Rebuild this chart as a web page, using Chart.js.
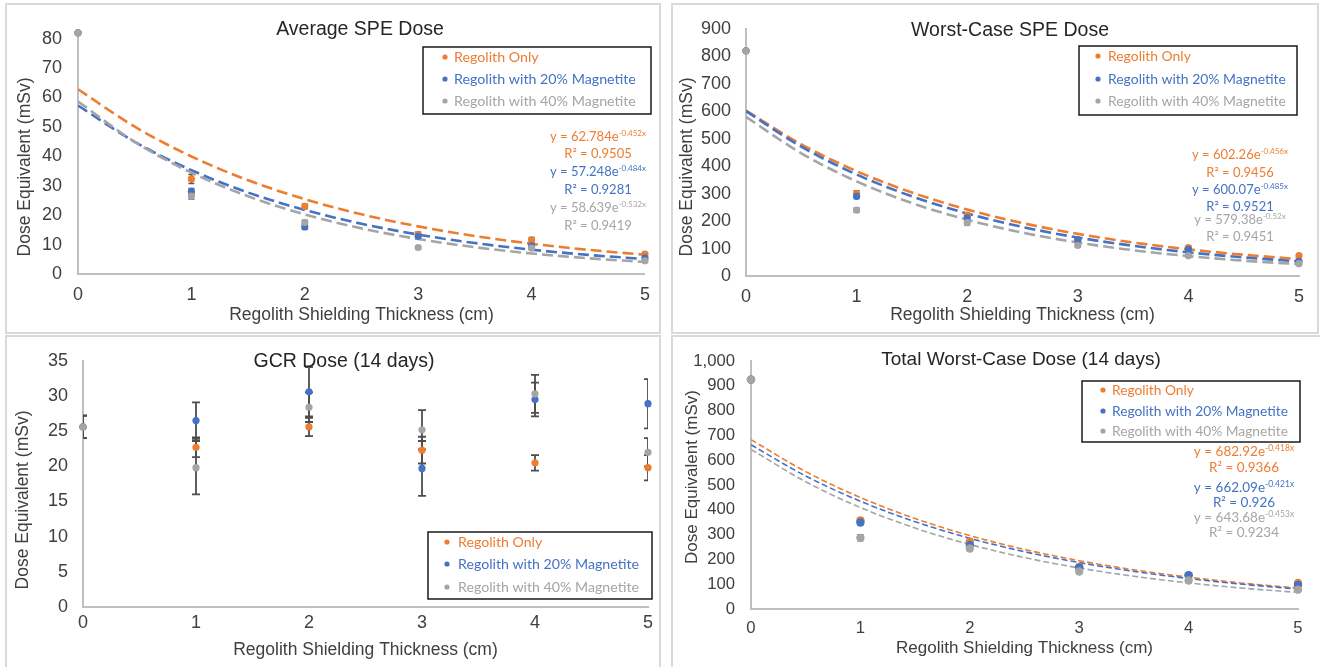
<!DOCTYPE html>
<html><head><meta charset="utf-8">
<script src="https://cdn.jsdelivr.net/npm/chart.js@4.4.0/dist/chart.umd.min.js"></script>
<style>
html,body{margin:0;padding:0;background:#fff;width:1320px;height:667px;overflow:hidden;position:relative;}
.panel{position:absolute;box-sizing:border-box;border:2px solid #d9d9d9;}
canvas{position:absolute;}
</style></head><body>
<div class="panel" style="left:5px;top:3px;width:656px;height:331px"></div>
<div class="panel" style="left:671px;top:3px;width:648px;height:331px"></div>
<div class="panel" style="left:5px;top:335px;width:656px;height:340px"></div>
<div class="panel" style="left:671px;top:335px;width:655px;height:340px"></div>
<canvas id="c1" width="655" height="331" style="left:5px;top:3px"></canvas>
<canvas id="c2" width="647" height="331" style="left:671px;top:3px"></canvas>
<canvas id="c3" width="655" height="332" style="left:5px;top:335px"></canvas>
<canvas id="c4" width="649" height="332" style="left:671px;top:335px"></canvas>
<script>
// ---------- DATA ----------
const thickness = [0, 1, 2, 3, 4, 5];
const trendThickness = [0, 0.5, 1, 1.5, 2, 2.5, 3, 3.5, 4, 4.5, 5];
const seriesLabels = ['Regolith Only', 'Regolith with 20% Magnetite', 'Regolith with 40% Magnetite'];
const xAxisLabel = 'Regolith Shielding Thickness (cm)';
const yAxisLabel = 'Dose Equivalent (mSv)';

// Average SPE Dose
const avgSpeTitle = 'Average SPE Dose';
const avgSpeRegolith = [82, 32.3, 23.0, 13.5, 11.6, 6.8];
const avgSpeMag20 = [82, 28.1, 16.0, 12.8, 9.6, 5.5];
const avgSpeMag40 = [82, 26.5, 17.5, 9.0, 8.8, 4.5];
const avgSpeErrRegolith = [0, 1.5, 0.8, 0.8, 0.8, 0.6];
const avgSpeErrMag20 = [0, 1.0, 0.8, 0.8, 0.6, 0.5];
const avgSpeErrMag40 = [0, 1.0, 0.8, 0.6, 0.6, 0.5];
const avgSpeTrendRegolith = [62.78, 50.08, 39.95, 31.87, 25.42, 20.28, 16.18, 12.91, 10.30, 8.21, 6.55];
const avgSpeTrendMag20 = [57.25, 44.94, 35.28, 27.70, 21.75, 17.07, 13.40, 10.52, 8.26, 6.49, 5.09];
const avgSpeTrendMag40 = [58.64, 44.94, 34.45, 26.40, 20.24, 15.51, 11.89, 9.11, 6.98, 5.35, 4.10];
const avgSpeEquations = [['y = 62.784e', '-0.452x', 'R² = 0.9505'], ['y = 57.248e', '-0.484x', 'R² = 0.9281'], ['y = 58.639e', '-0.532x', 'R² = 0.9419']];
const avgSpeYMax = 83;
const avgSpeYStep = 10;

// Worst-Case SPE Dose
const worstSpeTitle = 'Worst-Case SPE Dose';
const worstSpeRegolith = [820, 300, 222, 130, 103, 74];
const worstSpeMag20 = [820, 290, 212, 132, 97, 53];
const worstSpeMag40 = [820, 240, 194, 111, 74, 45];
const worstSpeErrRegolith = [0, 10, 8, 6, 6, 5];
const worstSpeErrMag20 = [0, 8, 8, 6, 6, 5];
const worstSpeErrMag40 = [0, 8, 8, 6, 6, 5];
const worstSpeTrendRegolith = [602.26, 479.48, 381.73, 303.91, 241.95, 192.63, 153.36, 122.10, 97.21, 77.39, 61.61];
const worstSpeTrendMag20 = [600.07, 470.86, 369.48, 289.92, 227.50, 178.51, 140.08, 109.92, 86.25, 67.68, 53.11];
const worstSpeTrendMag40 = [579.38, 446.73, 344.45, 265.59, 204.78, 157.90, 121.75, 93.87, 72.38, 55.81, 43.03];
const worstSpeEquations = [['y = 602.26e', '-0.456x', 'R² = 0.9456'], ['y = 600.07e', '-0.485x', 'R² = 0.9521'], ['y = 579.38e', '-0.52x', 'R² = 0.9451']];
const worstSpeYMax = 900;
const worstSpeYStep = 100;

// GCR Dose (14 days)
const gcrTitle = 'GCR Dose (14 days)';
const gcrRegolith = [25.6, 22.7, 25.6, 22.3, 20.5, 19.8];
const gcrMag20 = [25.6, 26.5, 30.6, 19.7, 29.5, 28.9];
const gcrMag40 = [25.6, 19.8, 28.4, 25.2, 30.3, 22.0];
const gcrErrRegolith = [1.6, 1.4, 1.3, 1.9, 1.1, 1.8];
const gcrErrMag20 = [1.6, 2.6, 3.5, 3.9, 2.4, 3.5];
const gcrErrMag40 = [1.6, 3.8, 2.1, 2.8, 2.7, 2.0];
const gcrYMax = 35;
const gcrYStep = 5;

// Total Worst-Case Dose (14 days)
const totalTitle = 'Total Worst-Case Dose (14 days)';
const totalRegolith = [925, 357, 271, 170, 136, 105];
const totalMag20 = [925, 349, 258, 167, 136, 97];
const totalMag40 = [925, 287, 244, 151, 115, 78];
const totalErrRegolith = [0, 10, 10, 8, 8, 6];
const totalErrMag20 = [0, 10, 10, 8, 8, 6];
const totalErrMag40 = [0, 12, 10, 8, 8, 6];
const totalTrendRegolith = [682.92, 554.11, 449.59, 364.79, 295.98, 240.15, 194.85, 158.10, 128.28, 104.08, 84.45];
const totalTrendMag20 = [662.09, 536.40, 434.57, 352.07, 285.24, 231.09, 187.22, 151.68, 122.88, 99.55, 80.65];
const totalTrendMag40 = [643.68, 513.23, 409.21, 326.28, 260.15, 207.42, 165.38, 131.86, 105.14, 83.83, 66.84];
const totalEquations = [['y = 682.92e', '-0.418x', 'R² = 0.9366'], ['y = 662.09e', '-0.421x', 'R² = 0.926'], ['y = 643.68e', '-0.453x', 'R² = 0.9234']];
const totalYMax = 1000;
const totalYStep = 100;

// ---------- STYLE ----------
const colors = ['#ED7D31', '#4472C4', '#A5A5A5'];
const FONT = '"Liberation Sans", Arial, sans-serif';
const LEG_FONT = 'Lato, "Open Sans", sans-serif';

function pts(xs, ys) { return xs.map((x, i) => ({x: x, y: ys[i]})); }

function pointSets(series, errs, radius) {
  return series.map((ys, k) => ({
    type: 'scatter', label: seriesLabels[k], data: pts(thickness, ys), err: errs[k],
    backgroundColor: colors[k], borderColor: colors[k], pointRadius: radius, pointHoverRadius: radius,
    borderWidth: 0, showLine: false, order: 2 - k, clip: false, legendEntry: true
  }));
}
function trendSets(series, width, dash) {
  return series.map((ys, k) => ({
    type: 'line', label: seriesLabels[k] + ' trend', data: pts(trendThickness, ys),
    borderColor: colors[k], backgroundColor: colors[k], borderWidth: width, borderDash: dash,
    pointRadius: 0, fill: false, cubicInterpolationMode: 'monotone', order: 5 - k
  }));
}

function drawErrorBars(chart, o) {
  const {ctx, chartArea: a, scales} = chart;
  const xs = scales.x, ys = scales.y;
  ctx.save();
  ctx.beginPath(); ctx.rect(a.left, a.top, a.right - a.left, a.bottom - a.top); ctx.clip();
  ctx.strokeStyle = o.errColor; ctx.lineWidth = o.errWidth;
  chart.data.datasets.forEach(ds => {
    if (!ds.err) return;
    ds.data.forEach((p, j) => {
      const e = ds.err[j]; if (!e) return;
      const px = xs.getPixelForValue(p.x);
      const t = ys.getPixelForValue(p.y + e), b = ys.getPixelForValue(p.y - e);
      const c = o.errCap;
      ctx.beginPath();
      ctx.moveTo(px, t); ctx.lineTo(px, b);
      ctx.moveTo(px - c, t); ctx.lineTo(px + c, t);
      ctx.moveTo(px - c, b); ctx.lineTo(px + c, b);
      ctx.stroke();
    });
  });
  ctx.restore();
}

function overlay(o) {
  return {
    id: 'overlay',
    beforeDatasetsDraw(chart) { drawErrorBars(chart, o); },
    afterDraw(chart) {
      const ctx = chart.ctx;
      ctx.save();
      ctx.textAlign = 'center'; ctx.textBaseline = 'middle';
      ctx.font = o.titleSize + 'px ' + FONT; ctx.fillStyle = '#262626';
      ctx.fillText(o.title, o.titleX, o.titleY);
      ctx.save(); ctx.translate(o.yTitleX, o.yTitleY); ctx.rotate(-Math.PI / 2);
      ctx.font = o.axisTitleSize + 'px ' + FONT; ctx.fillStyle = '#404040';
      ctx.fillText(yAxisLabel, 0, 0); ctx.restore();
      const L = o.legend;
      const items = chart.data.datasets.filter(d => d.legendEntry);
      ctx.font = '14px ' + LEG_FONT;
      const longest = Math.max(...items.map(d => ctx.measureText(d.label).width));
      const fs = 14 * L.textWidth / longest;
      ctx.strokeStyle = '#1a1a1a'; ctx.lineWidth = 1.5;
      ctx.strokeRect(L.x0, L.y0, L.x1 - L.x0, L.y1 - L.y0);
      ctx.font = fs + 'px ' + LEG_FONT; ctx.textAlign = 'left';
      items.forEach((d, i) => {
        ctx.fillStyle = d.borderColor;
        ctx.beginPath(); ctx.arc(L.bulletX, L.rows[i], 2.6, 0, Math.PI * 2); ctx.fill();
        ctx.fillText(d.label, L.textX, L.rows[i] + 0.5);
      });
      if (o.eq) {
        const E = o.eq;
        o.eq.texts.forEach((t, k) => {
          ctx.fillStyle = colors[k];
          ctx.font = E.size + 'px ' + LEG_FONT;
          const w1 = ctx.measureText(t[0]).width;
          ctx.font = E.supSize + 'px ' + LEG_FONT;
          const w2 = ctx.measureText(t[1]).width;
          const sx = E.cx - (w1 + w2) / 2;
          const y1 = E.rows[k * 2], y2 = E.rows[k * 2 + 1];
          ctx.textAlign = 'left';
          ctx.font = E.size + 'px ' + LEG_FONT; ctx.fillText(t[0], sx, y1);
          ctx.font = E.supSize + 'px ' + LEG_FONT; ctx.fillText(t[1], sx + w1, y1 - E.supRaise);
          ctx.textAlign = 'center';
          ctx.font = E.size + 'px ' + LEG_FONT; ctx.fillText(t[2], E.cx, y2);
        });
      }
      ctx.restore();
    }
  };
}

function build(id, datasets, o) {
  return new Chart(document.getElementById(id), {
    type: 'scatter',
    data: {datasets: datasets},
    plugins: [overlay(o)],
    options: {
      responsive: false, animation: false, devicePixelRatio: 1, locale: 'en-US',
      layout: {padding: o.padding},
      plugins: {legend: {display: false}, title: {display: false}, tooltip: {enabled: false}},
      scales: {
        x: {
          type: 'linear', min: 0, max: 5,
          afterFit: s => { s.height = o.xAxisH; },
          grid: {display: false, drawTicks: false},
          border: {display: true, color: '#BFBFBF', width: 2},
          ticks: {stepSize: 1, padding: o.xTickPad, color: '#404040', font: {family: FONT, size: o.tickSize}},
          title: {display: true, text: xAxisLabel, color: '#404040', font: {family: FONT, size: o.axisTitleSize}, padding: {top: 0, bottom: o.xTitlePad}}
        },
        y: {
          type: 'linear', min: 0, max: o.yMax,
          afterFit: s => { s.width = 60; },
          afterBuildTicks: s => {
            const t = [];
            for (let v = 0; v <= o.yMax + 1e-9; v += o.yStep) t.push({value: v});
            s.ticks = t;
          },
          grid: {display: false, drawTicks: false},
          border: {display: true, color: '#BFBFBF', width: 2},
          ticks: {stepSize: o.yStep, padding: o.yTickPad, color: '#404040', font: {family: FONT, size: o.tickSize}}
        }
      }
    }
  });
}

Chart.defaults.font.family = FONT;

build('c1',
  pointSets([avgSpeRegolith, avgSpeMag20, avgSpeMag40], [avgSpeErrRegolith, avgSpeErrMag20, avgSpeErrMag40], 3.6)
    .concat(trendSets([avgSpeTrendRegolith, avgSpeTrendMag20, avgSpeTrendMag40], 2.6, [11, 5])),
  {padding: {left: 13, right: 12, top: 21, bottom: 0}, xAxisH: 60, xTickPad: 10, yTickPad: 16, xTitlePad: 8.5,
   tickSize: 18, axisTitleSize: 17.5, yMax: avgSpeYMax, yStep: avgSpeYStep,
   title: avgSpeTitle, titleSize: 19.5, titleX: 355, titleY: 27, yTitleX: 20, yTitleY: 164,
   errColor: '#595959', errWidth: 1.5, errCap: 3,
   legend: {x0: 418, y0: 44, x1: 646, y1: 111, rows: [54, 76, 98], bulletX: 440, textX: 449, textWidth: 182},
   eq: {texts: avgSpeEquations, cx: 593, rows: [134, 151, 169, 187, 205, 223], size: 13, supSize: 8, supRaise: 4}
  });

build('c2',
  pointSets([worstSpeRegolith, worstSpeMag20, worstSpeMag40], [worstSpeErrRegolith, worstSpeErrMag20, worstSpeErrMag40], 3.6)
    .concat(trendSets([worstSpeTrendRegolith, worstSpeTrendMag20, worstSpeTrendMag40], 2.6, [11, 5])),
  {padding: {left: 15, right: 19, top: 17, bottom: 0}, xAxisH: 58, xTickPad: 10, yTickPad: 15, xTitlePad: 8.5,
   tickSize: 18, axisTitleSize: 17.5, yMax: worstSpeYMax, yStep: worstSpeYStep,
   title: worstSpeTitle, titleSize: 19.5, titleX: 339, titleY: 28, yTitleX: 16, yTitleY: 164,
   errColor: '#595959', errWidth: 1.5, errCap: 3,
   legend: {x0: 408, y0: 43, x1: 626, y1: 112, rows: [53, 76, 98], bulletX: 427, textX: 437, textWidth: 178},
   eq: {texts: worstSpeEquations, cx: 569, rows: [152, 170, 187, 204, 217, 234], size: 13, supSize: 8, supRaise: 4}
  });

build('c3',
  pointSets([gcrRegolith, gcrMag20, gcrMag40], [gcrErrRegolith, gcrErrMag20, gcrErrMag40], 3.6),
  {padding: {left: 18, right: 12, top: 15, bottom: 0}, xAxisH: 60, xTickPad: 5, yTickPad: 15, xTitlePad: 6.5,
   tickSize: 18, axisTitleSize: 17.5, yMax: gcrYMax, yStep: gcrYStep,
   title: gcrTitle, titleSize: 19.5, titleX: 339, titleY: 27, yTitleX: 18, yTitleY: 165,
   errColor: '#4d4d4d', errWidth: 1.8, errCap: 4,
   legend: {x0: 423, y0: 197, x1: 647, y1: 264, rows: [207, 229, 252], bulletX: 442, textX: 453, textWidth: 181}
  });

build('c4',
  pointSets([totalRegolith, totalMag20, totalMag40], [totalErrRegolith, totalErrMag20, totalErrMag40], 4.2)
    .concat(trendSets([totalTrendRegolith, totalTrendMag20, totalTrendMag40], 1.6, [6, 3])),
  {padding: {left: 20, right: 22, top: 16, bottom: 0}, xAxisH: 58, xTickPad: 9, yTickPad: 16, xTitlePad: 8.8,
   tickSize: 16.7, axisTitleSize: 17, yMax: totalYMax, yStep: totalYStep,
   title: totalTitle, titleSize: 19, titleX: 350, titleY: 25, yTitleX: 21, yTitleY: 142,
   errColor: '#595959', errWidth: 1.5, errCap: 3,
   legend: {x0: 411, y0: 46, x1: 629, y1: 107, rows: [55, 76, 96], bulletX: 432, textX: 441, textWidth: 176},
   eq: {texts: totalEquations, cx: 573, rows: [117, 133, 153, 168, 183, 198], size: 13.5, supSize: 8.5, supRaise: 4}
  });
</script>
</body></html>
